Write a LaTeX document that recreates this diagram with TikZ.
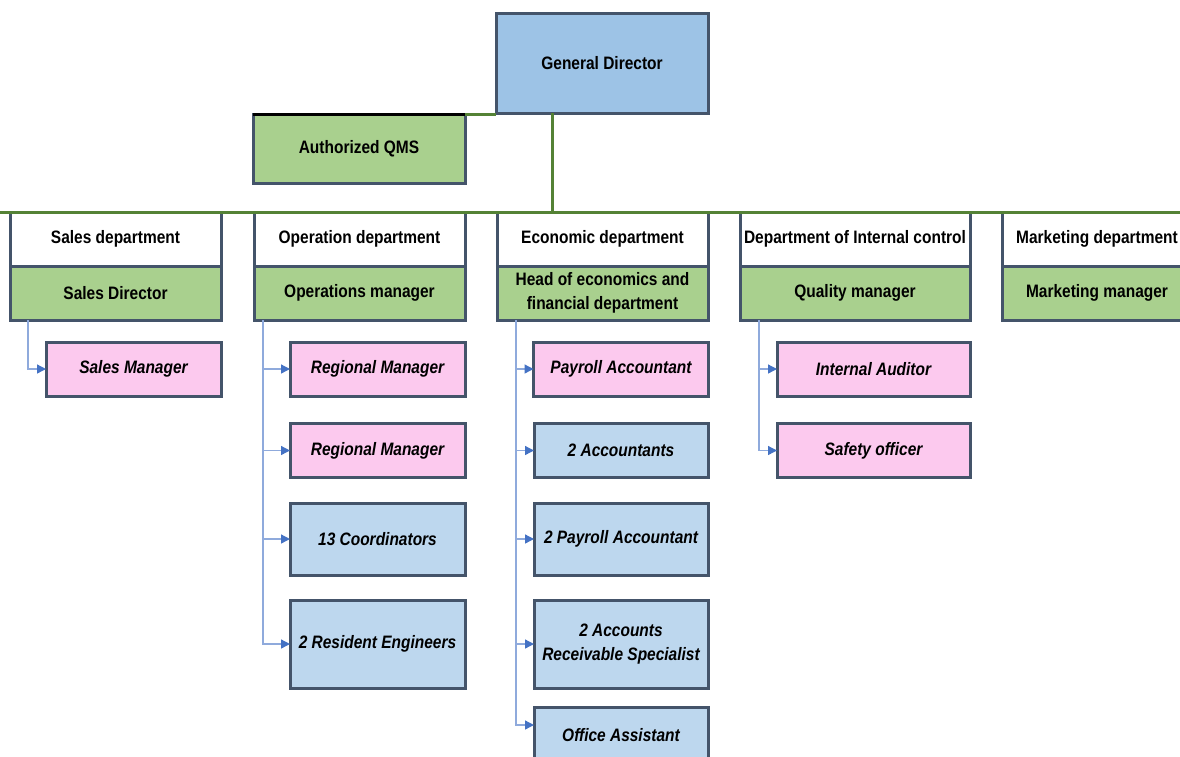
\documentclass[tikz,border=0pt]{standalone}
\usepackage{fontspec}
\setmainfont{Liberation Sans}[FakeStretch=0.86]
\usetikzlibrary{arrows.meta}
\definecolor{gdblue}{HTML}{9DC3E6}
\definecolor{mgrgreen}{HTML}{A9D08E}
\definecolor{staffpink}{HTML}{FCC9EE}
\definecolor{staffblue}{HTML}{BDD7EE}
\definecolor{boxedge}{HTML}{44546A}
\definecolor{busgreen}{HTML}{548235}
\definecolor{linkblue}{HTML}{8FAADC}
\definecolor{tipblue}{HTML}{4472C4}
\tikzset{
  orgbox/.style 2 args={draw=boxedge, line width=3pt, rectangle, inner sep=0pt,
    outer sep=0pt, minimum width=#1, minimum height=#2, align=center,
    font=\fontsize{18}{24}\selectfont\bfseries},
  deptbox/.style={orgbox={211pt}{54pt}, fill=white},
  mgrbox/.style={orgbox={211pt}{54pt}, fill=mgrgreen},
  pinkbox/.style={orgbox={175pt}{54pt}, fill=staffpink,
    font=\fontsize{18}{24}\selectfont\bfseries\itshape},
  bluebox/.style 2 args={orgbox={#1}{#2}, fill=staffblue,
    font=\fontsize{18}{24}\selectfont\bfseries\itshape},
  busline/.style={draw=busgreen, line width=3pt},
  sublink/.style={draw=linkblue, line width=1.3pt,
    -{Triangle[length=9pt,width=9pt,color=tipblue]}}
}
\begin{document}
\begin{tikzpicture}[x=1pt,y=-1pt]
  \useasboundingbox (0,0) rectangle (1180,756);
  % top
  \node[orgbox={212pt}{100pt}, fill=gdblue] (gd) at (602,63) {General Director};
  \node[orgbox={212pt}{69pt}, fill=mgrgreen] (qms) at (359,149) {Authorized QMS};
  \draw[line width=3pt] (qms.north west) -- (qms.north east);
  % departments
  \node[deptbox] (salesdep) at (115.5,239) {Sales department};
  \node[mgrbox] (salesdir) at (115.5,293) {Sales Director};
  \node[deptbox] (opdep) at (359.5,239) {Operation department};
  \node[mgrbox] (opmgr) at (359.5,293) {Operations manager};
  \node[deptbox] (ecodep) at (602.5,239) {Economic department};
  \node[mgrbox] (ecohead) at (602.5,293) {Head of economics and\\financial department};
  \node[deptbox, minimum width=230pt] (icdep) at (855,239) {Department of Internal control};
  \node[mgrbox, minimum width=230pt] (qualmgr) at (855,293) {Quality manager};
  \node[deptbox, minimum width=190pt] (mktdep) at (1097,239) {Marketing department};
  \node[mgrbox, minimum width=190pt] (mktmgr) at (1097,293) {Marketing manager};
  % staff
  \node[pinkbox] (salesmgr) at (133.5,369) {Sales Manager};
  \node[pinkbox] (reg1) at (377.5,369) {Regional Manager};
  \node[pinkbox] (reg2) at (377.5,450.5) {Regional Manager};
  \node[bluebox={175pt}{72pt}] (coord) at (377.5,539) {13 Coordinators};
  \node[bluebox={175pt}{88pt}] (reseng) at (377.5,644) {2 Resident Engineers};
  \node[pinkbox] (payroll) at (621,369) {Payroll Accountant};
  \node[bluebox={174pt}{54pt}] (accts) at (621,450.5) {2 Accountants};
  \node[bluebox={174pt}{72pt}] (payroll2) at (621,539) {2 Payroll Accountant};
  \node[bluebox={174pt}{88pt}] (receiv) at (621,644) {2 Accounts\\Receivable Specialist};
  \node[bluebox={174pt}{56pt}] (office) at (621,735) {Office Assistant};
  \node[pinkbox, minimum width=193pt] (auditor) at (873.5,369) {Internal Auditor};
  \node[pinkbox, minimum width=193pt] (safety) at (873.5,450.5) {Safety officer};
  % green bus
  \coordinate (busl) at (0,212);
  \coordinate (busr) at (1180,212);
  \coordinate (drop) at (552,212);
  \draw[busline] (qms.north east) -- (qms.north east -| gd.west);
  \draw[busline] (gd.south -| drop) -- (drop);
  \draw[busline] (busl) -- (busr);
  % staff links
  \coordinate (salestop) at (28,320);
  \coordinate (optop) at (263,320);
  \coordinate (ecotop) at (516,320);
  \coordinate (ictop) at (759,320);
  \draw[sublink] (salestop) |- (salesmgr.west);
  \foreach \n in {reg1,reg2,coord,reseng}
    \draw[sublink] (optop) |- (\n.west);
  \foreach \n in {payroll,accts,payroll2,receiv}
    \draw[sublink] (ecotop) |- (\n.west);
  \draw[sublink] (ecotop) |- ([yshift=10pt]office.west);
  \foreach \n in {auditor,safety}
    \draw[sublink] (ictop) |- (\n.west);
\end{tikzpicture}
\end{document}
